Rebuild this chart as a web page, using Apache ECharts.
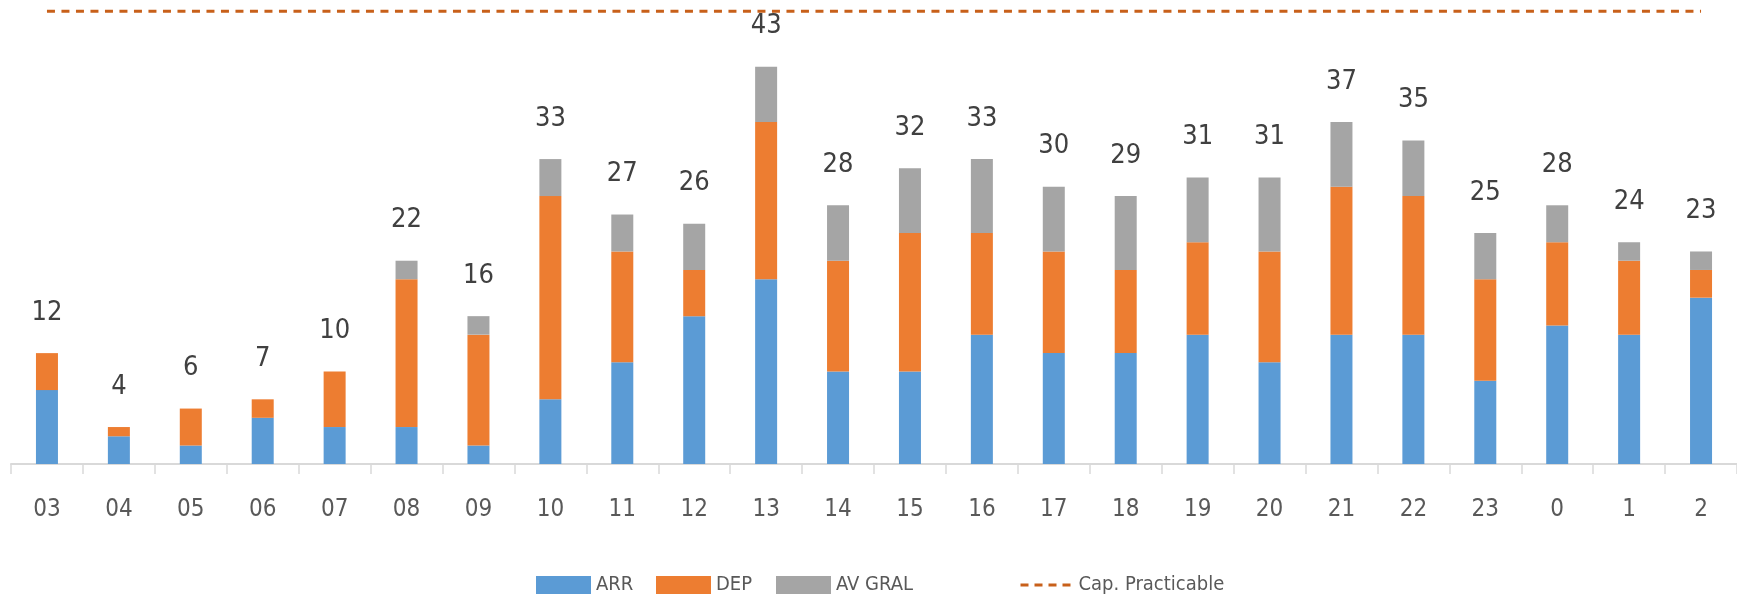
<!DOCTYPE html>
<html>
<head>
<meta charset="utf-8">
<script src="https://cdn.jsdelivr.net/npm/echarts@6/dist/echarts.min.js"></script>
<style>
  html, body { margin: 0; padding: 0; background: #fff; }
  #chart { width: 1737px; height: 600px; }
</style>
</head>
<body>
<div id="chart"></div>
<script>
// hours
var hours = ['03', '04', '05', '06', '07', '08', '09', '10', '11', '12', '13', '14',
             '15', '16', '17', '18', '19', '20', '21', '22', '23', '0', '1', '2'];
var arr   = [8, 3, 2, 5, 4, 4, 2, 7, 11, 16, 20, 10, 10, 14, 12, 12, 14, 11, 14, 14, 9, 15, 14, 18];
var dep   = [4, 1, 4, 2, 6, 16, 12, 22, 12, 5, 17, 12, 15, 11, 11, 9, 10, 12, 16, 15, 11, 9, 8, 3];
var avGral = [0, 0, 0, 0, 0, 2, 2, 4, 4, 5, 6, 6, 7, 8, 7, 8, 7, 8, 7, 6, 5, 4, 2, 2];
var capPracticable = 49;

var FONT = '"Liberation Sans Narrow", "DejaVu Sans Condensed", sans-serif';

var totals = [];
for (var i = 0; i < hours.length; i++) {
    totals.push(arr[i] + dep[i] + avGral[i]);
}
var capLine = hours.map(function () { return capPracticable; });

function legendAt(name, left) {
    return {
        data: [name],
        left: left, top: 570,
        itemWidth: 55, itemHeight: 18,
        icon: 'rect',
        textStyle: { color: '#595959', fontSize: 20, fontFamily: FONT }
    };
}

var chart = echarts.init(document.getElementById('chart'));
chart.setOption({
    animation: false,
    grid: { left: 11, top: 2, width: 1737.6, bottom: 136, containLabel: false },
    legend: [
        legendAt('ARR', 531),
        legendAt('DEP', 651),
        legendAt('AV GRAL', 771),
        {
            data: ['Cap. Practicable'],
            left: 1014, top: 570,
            itemWidth: 53, itemHeight: 18,
            itemStyle: { opacity: 0 },
            lineStyle: { color: '#C8601A', width: 3, type: [8, 6] },
            textStyle: { color: '#595959', fontSize: 20, fontFamily: FONT }
        }
    ],
    xAxis: {
        type: 'category',
        data: hours,
        axisLine: { lineStyle: { color: '#D9D9D9', width: 2 } },
        axisTick: { show: true, length: 10, lineStyle: { color: '#D9D9D9', width: 1.5 } },
        axisLabel: { color: '#595959', fontSize: 24, fontFamily: FONT, margin: 34 }
    },
    yAxis: {
        type: 'value',
        min: 0, max: 50,
        show: false,
        splitLine: { show: false }
    },
    series: [
        {
            name: 'ARR', type: 'bar', stack: 'total', barWidth: 22,
            itemStyle: { color: '#5B9BD5' },
            data: arr
        },
        {
            name: 'DEP', type: 'bar', stack: 'total', barWidth: 22,
            itemStyle: { color: '#ED7D31' },
            data: dep
        },
        {
            name: 'AV GRAL', type: 'bar', stack: 'total', barWidth: 22,
            itemStyle: { color: '#A5A5A5' },
            label: {
                show: true, position: 'top', distance: 27,
                color: '#404040', fontSize: 27, fontFamily: FONT,
                formatter: function (p) { return totals[p.dataIndex]; }
            },
            data: avGral
        },
        {
            name: 'Cap. Practicable', type: 'line',
            symbol: 'none',
            lineStyle: { color: '#C8601A', width: 3, type: [8, 6.5] },
            itemStyle: { color: '#C8601A' },
            data: capLine
        }
    ]
});
</script>
</body>
</html>
